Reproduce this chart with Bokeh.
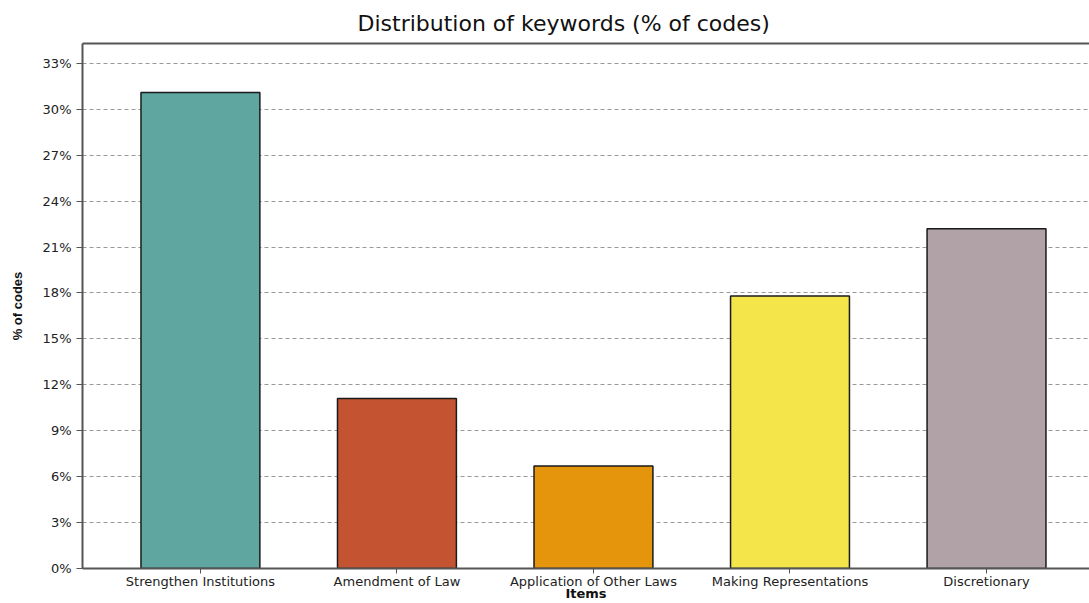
from bokeh.plotting import figure
from bokeh.models import Range1d, FixedTicker, LinearAxis, ColumnDataSource
from bokeh.embed import file_html
from bokeh.resources import INLINE

# Keyword categories and their share of all codes (%)
items = [
    "Strengthen Institutions",
    "Amendment of Law",
    "Application of Other Laws",
    "Making Representations",
    "Discretionary",
]
share_pct = [31.1, 11.1, 6.7, 17.8, 22.2]
bar_colors = ["#5FA5A0", "#C45431", "#E5950C", "#F4E64A", "#B0A2A7"]
y_ticks = [0, 3, 6, 9, 12, 15, 18, 21, 24, 27, 30, 33]

src = ColumnDataSource(dict(x=list(range(len(items))), top=share_pct, color=bar_colors))

p = figure(
    width=1089, height=603,
    x_range=Range1d(-0.6, 4.524), y_range=Range1d(0, 34.3),
    output_backend="svg", toolbar_location=None,
    min_border_left=82, min_border_right=0, min_border_top=43, min_border_bottom=30,
)

p.vbar(x="x", top="top", width=0.605, fill_color="color",
       line_color="#1a1a1a", line_width=1.5, source=src)

# title
p.title.text = "Distribution of keywords (% of codes)"
p.title.text_font = "DejaVu Sans"
p.title.text_font_size = "22px"
p.title.text_font_style = "normal"
p.title.text_color = "#111111"
p.title.align = "left"
p.title.offset = 275
p.title.standoff = 16

p.outline_line_color = None
p.background_fill_color = "white"
p.border_fill_color = "white"

# y axis
ya = p.yaxis[0]
ya.ticker = FixedTicker(ticks=y_ticks)
ya.major_label_overrides = {t: f"{t}%" for t in y_ticks}
ya.axis_label = "% of codes"
ya.axis_label_text_font = "Liberation Sans"
ya.axis_label_text_font_style = "bold"
ya.axis_label_text_font_size = "13px"
ya.axis_label_standoff = 15

# x axis
xa = p.xaxis[0]
xa.ticker = FixedTicker(ticks=list(range(len(items))))
xa.major_label_overrides = {i: name for i, name in enumerate(items)}
xa.axis_label = "Items"
xa.axis_label_text_font = "DejaVu Sans"
xa.axis_label_text_font_style = "bold"
xa.axis_label_text_font_size = "13px"
xa.axis_label_standoff = -6

for ax in (xa, ya):
    ax.axis_line_color = "#555555"
    ax.axis_line_width = 2
    ax.major_tick_line_color = "#555555"
    ax.major_tick_out = 6
    ax.major_tick_in = 0
    ax.minor_tick_line_color = None
    ax.major_label_text_font = "DejaVu Sans"
    ax.major_label_text_font_size = "13px"
    ax.major_label_text_color = "#222222"
    ax.axis_label_text_color = "#111111"
xa.major_tick_out = 5
xa.major_label_standoff = 0
ya.major_label_standoff = 5

# top frame line
top_axis = LinearAxis(
    ticker=FixedTicker(ticks=[]),
    axis_line_color="#555555", axis_line_width=2,
    major_tick_line_color=None, minor_tick_line_color=None,
    major_label_text_font_size="0px", major_tick_out=0, major_tick_in=0,
)
p.add_layout(top_axis, "above")

# horizontal dashed grid
p.xgrid.grid_line_color = None
p.ygrid.ticker = FixedTicker(ticks=y_ticks[1:])
p.ygrid.grid_line_color = "#999999"
p.ygrid.grid_line_dash = "4 3"
p.ygrid.grid_line_width = 1

open("out.html", "w").write(file_html(p, INLINE))
